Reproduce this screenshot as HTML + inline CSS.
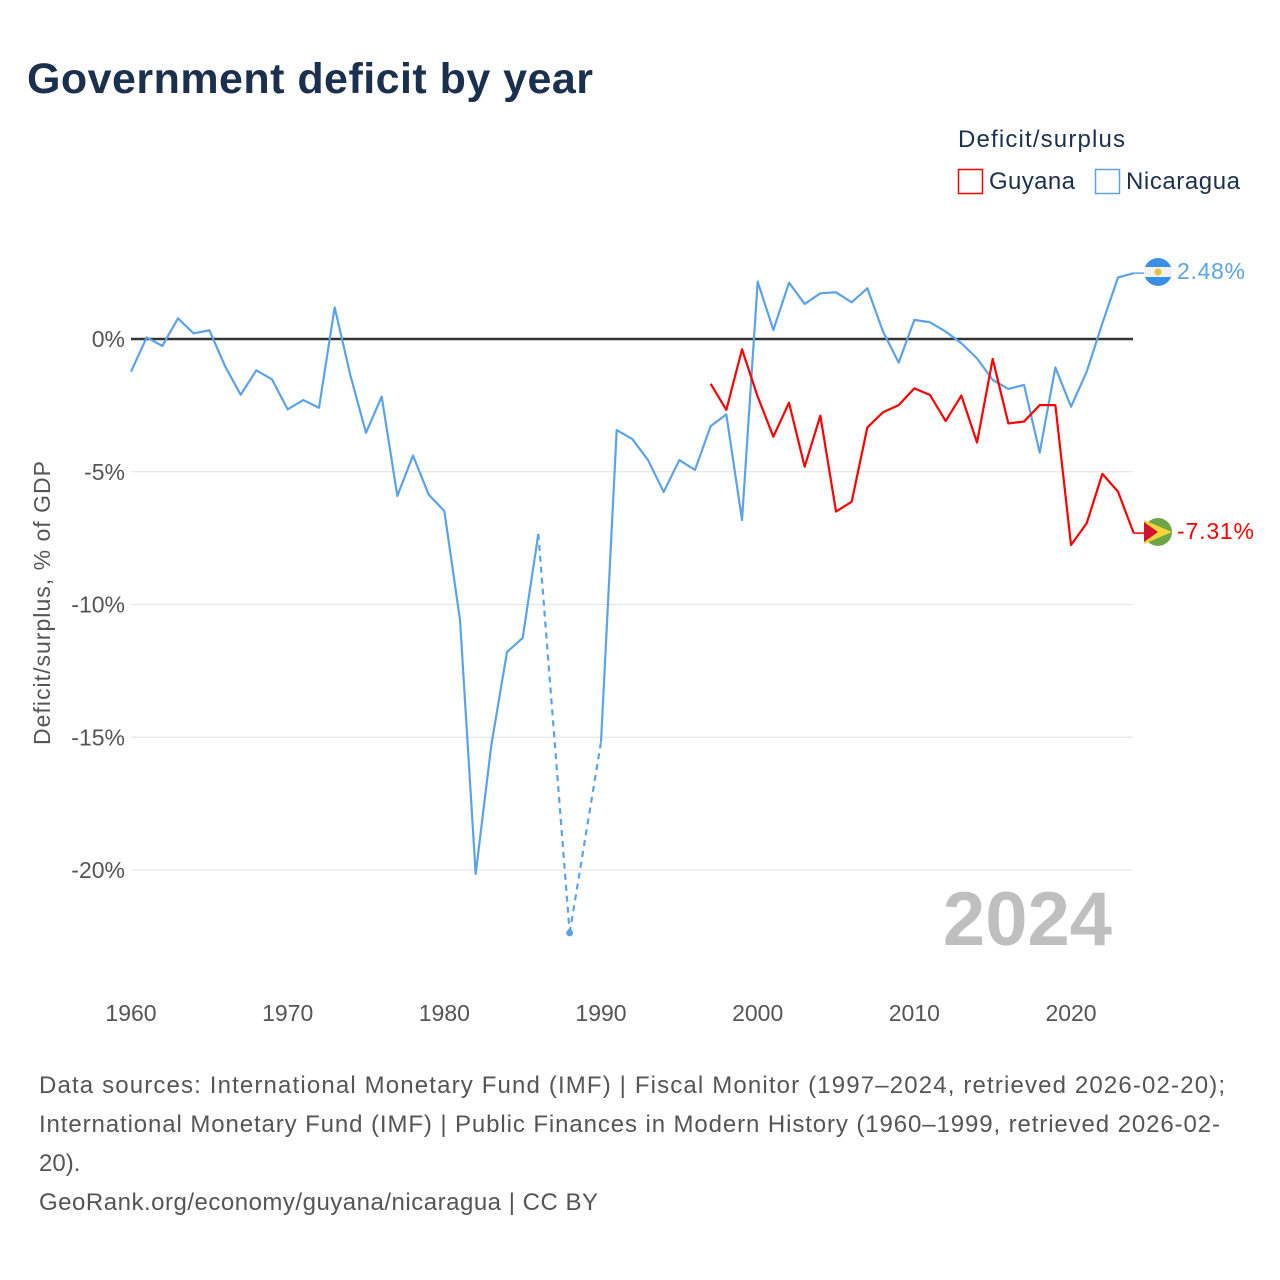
<!DOCTYPE html>
<html><head><meta charset="utf-8"><style>
html,body{margin:0;padding:0;background:#fff;width:1280px;height:1280px;overflow:hidden;font-family:"Liberation Sans",sans-serif;}
</style></head><body>
<svg width="1280" height="1280" viewBox="0 0 1280 1280">
<text x="27" y="93" font-size="43" font-weight="bold" fill="#1b2f4e" textLength="566">Government deficit by year</text>
<text x="958" y="147" font-size="24" fill="#1b2f4e" textLength="167">Deficit/surplus</text>
<g><rect x="958.5" y="169.5" width="24" height="24" fill="none" stroke="#ff0000" stroke-width="1.5"/><text x="989" y="189" font-size="24" fill="#1b2f4e" textLength="86">Guyana</text></g>
<g><rect x="1095.5" y="169.5" width="24" height="24" fill="none" stroke="#5ba3e8" stroke-width="1.5"/><text x="1126" y="189" font-size="24" fill="#1b2f4e" textLength="114">Nicaragua</text></g>
<g id="grid"></g>
<g id="xt"></g>
<text transform="translate(50,603) rotate(-90)" text-anchor="middle" font-size="23" fill="#555" textLength="284">Deficit/surplus, % of GDP</text>
<text x="1112" y="945" text-anchor="end" font-size="76" font-weight="bold" fill="#bfbfbf">2024</text>
<g id="series"></g>
<g><circle cx="1158" cy="272" r="14" fill="#3a8ee6"/><rect x="1144" y="267" width="28" height="10" fill="#f2f2f2"/><circle cx="1158" cy="272" r="3.5" fill="#e8c33a"/></g>
<g><circle cx="1158" cy="532" r="14" fill="#6ca646"/><path d="M1144,520 L1172,532 L1144,544Z" fill="#f5d53a"/><path d="M1144,522 L1158,532 L1144,542Z" fill="#d3122e"/></g>
<text x="1177" y="279" font-size="23" fill="#5ba3e8" textLength="68">2.48%</text>
<text x="1177" y="539" font-size="23" fill="#ff0000" textLength="77">-7.31%</text>
<g font-size="24" fill="#555">
<text x="39" y="1093" textLength="1186">Data sources: International Monetary Fund (IMF) | Fiscal Monitor (1997–2024, retrieved 2026-02-20);</text>
<text x="39" y="1132" textLength="1181">International Monetary Fund (IMF) | Public Finances in Modern History (1960–1999, retrieved 2026-02-</text>
<text x="39" y="1171">20).</text>
<text x="39" y="1210" textLength="559">GeoRank.org/economy/guyana/nicaragua | CC BY</text>
</g>
</svg>
<script>
const yTicks=[0,-5,-10,-15,-20];
const xTicks=[1960,1970,1980,1990,2000,2010,2020];
const nicYears=[];for(let y=1960;y<=2024;y++)nicYears.push(y);
const nicValues=[-1.23,0.06,-0.26,0.78,0.21,0.33,-1.02,-2.1,-1.18,-1.52,-2.65,-2.3,-2.59,1.19,-1.36,-3.53,-2.17,-5.91,-4.39,-5.86,-6.48,-10.58,-20.15,-15.29,-11.79,-11.26,-7.34,null,-22.37,null,-15.18,-3.43,-3.77,-4.56,-5.76,-4.56,-4.93,-3.28,-2.84,-6.82,2.16,0.34,2.12,1.32,1.72,1.76,1.38,1.91,0.28,-0.89,0.72,0.63,0.28,-0.16,-0.73,-1.54,-1.88,-1.73,-4.28,-1.07,-2.55,-1.23,0.59,2.32,2.48];
const guyYears=[];for(let y=1997;y<=2024;y++)guyYears.push(y);
const guyValues=[-1.69,-2.67,-0.39,-2.17,-3.68,-2.4,-4.81,-2.89,-6.5,-6.13,-3.33,-2.76,-2.49,-1.86,-2.11,-3.09,-2.13,-3.9,-0.75,-3.18,-3.11,-2.49,-2.49,-7.76,-6.94,-5.08,-5.75,-7.31];
const NS='http://www.w3.org/2000/svg';
const X=y=>131+(y-1960)*(1002.7/64);
const Y=v=>339-v*26.55;
function mk(t,a,p){const e=document.createElementNS(NS,t);for(const k in a)e.setAttribute(k,a[k]);p.appendChild(e);return e;}
const grid=document.getElementById('grid');
yTicks.forEach(v=>{
 const l=mk('line',{x1:131,x2:1133,y1:Y(v),y2:Y(v),stroke:v===0?'#333':'#e6e6e6','stroke-width':v===0?2.5:1.2},grid);
 
 
 const t=mk('text',{x:125,y:Y(v)+8,'text-anchor':'end','font-size':23,fill:'#555'},grid);
 t.textContent=v+'%';
 
 
});
const xt=document.getElementById('xt');
xTicks.forEach(y=>{
 const t=mk('text',{x:X(y),y:1021,'text-anchor':'middle','font-size':23,fill:'#555'},xt);
 t.textContent=y;
 
 
});
const sg=document.getElementById('series');
function draw(years,vals,color,name,endX){
 let pts=[],segs=[],gaps=[],last=null,prevNull=false;
 for(let i=0;i<years.length;i++){
  const v=vals[i];if(v==null){prevNull=true;continue;}
  const p=[X(years[i]),Y(v)];
  if(prevNull&&last){segs.push(pts);pts=[];gaps.push([last,p]);}
  pts.push(p);last=p;prevNull=false;
 }
 segs.push(pts);
 segs.forEach(s=>{
  if(s.length===1){const c=mk('circle',{cx:s[0][0],cy:s[0][1],r:3.5,fill:color},sg);return;}
  const pl=mk('polyline',{points:s.map(p=>p.join(',')).join(' '),fill:'none',stroke:color,'stroke-width':2.2,'stroke-linejoin':'round'},sg);
  
  
 });
 gaps.forEach(g=>{
  const d=mk('line',{x1:g[0][0],y1:g[0][1],x2:g[1][0],y2:g[1][1],stroke:color,'stroke-width':2.2,'stroke-dasharray':'6,5'},sg);
  
  
 });
 const lp=pts[pts.length-1];
 const c=mk('line',{x1:lp[0],y1:lp[1],x2:endX,y2:lp[1],stroke:color,'stroke-width':1.5},sg);
 
 
}
draw(nicYears,nicValues,'#5ba3e8','nicaragua',1144);
draw(guyYears,guyValues,'#ff0000','guyana',1144);
</script>
</body></html>
